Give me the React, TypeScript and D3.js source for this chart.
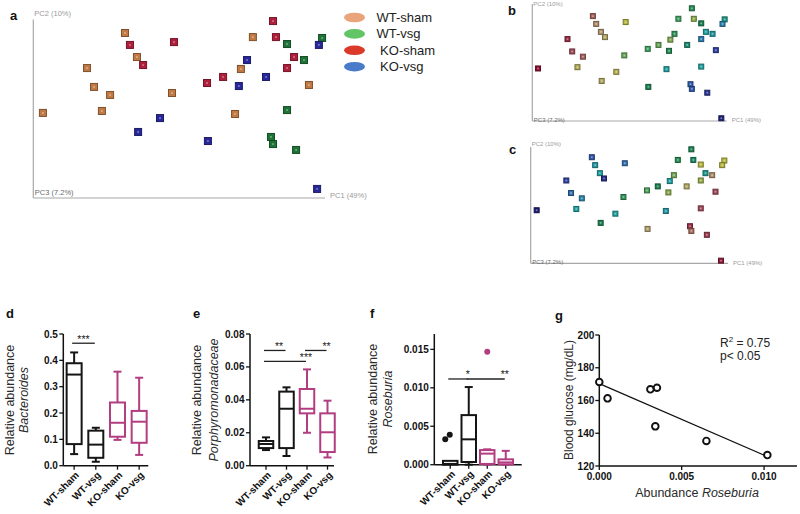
import React from "react";
import * as d3 from "d3";

const FONT = "'Liberation Sans', Arial, Helvetica, sans-serif";

// ---------- PCoA (panels a-c) ----------
const groups = ["WT-sham", "WT-vsg", "KO-sham", "KO-vsg"];
const legendLabels = ["WT-sham", "WT-vsg", " KO-sham", " KO-vsg"];
const legendColors = ["#eaa47b", "#63c666", "#db3a2a", "#4a7bca"];
const pcoaColors = ["#c27a45", "#1e7337", "#b0203c", "#28289b"];
const axisLabels = ["PC2 (10%)", "PC3 (7.2%)", "PC1 (49%)"];

// group index per sample (0 WT-sham, 1 WT-vsg, 2 KO-sham, 3 KO-vsg)
const sampleGroup = [0,0,0,0,0,0,0,0,0,0,0,0, 2,2,2,2,2,2,2,2,2, 1,1,1,1,1,1,1, 3,3,3,3,3,3,3,3];
// PC1 / PC2 scores (scaled units 0-100)
const pc1 = [31.5,35.6,18.5,20.9,26.4,23.6,3.4,47.6,75.3,71.2,94.5,69.2,
  82.2,33.2,37.7,48.3,83.2,89.4,87.0,65.1,59.6,
  99.0,87.0,92.8,87.0,81.5,82.2,90.1,
  97.9,73.3,79.8,70.5,43.5,36.0,59.9,97.3];
const pc2 = [92.7,79.2,73.0,62.4,57.9,48.9,47.8,59.0,90.4,72.5,63.5,47.2,
  99.4,86.0,74.7,87.6,90.4,79.2,73.0,68.0,64.6,
  89.9,86.5,77.5,49.4,34.3,30.3,27.0,
  86.0,77.5,68.0,62.9,44.9,37.1,32.0,5.1];
// continuous colouring values (0-1) for panels b and c
const gradientB = [0.15,0.26,0.05,0.10,0.15,0.32,0.0,0.5,0.56,0.46,0.9,0.7,
  0.6,0.24,0.3,0.36,0.44,0.7,0.78,0.5,0.56,
  0.68,0.62,0.72,0.7,0.84,0.85,0.93,
  0.76,0.58,0.65,0.6,0.33,0.3,0.62,0.98];
const gradientC = [0.86,0.7,0.9,0.8,0.76,0.7,1.0,0.58,0.6,0.7,0.1,0.72,
  0.62,0.72,0.95,0.8,0.64,0.68,0.42,0.62,0.54,
  0.36,0.36,0.24,0.1,0.06,0.18,0.08,
  0.36,0.48,0.3,0.44,0.7,0.62,0.28,0.02];
const gradientStops = [0, 0.1, 0.2, 0.28, 0.36, 0.46, 0.56, 0.62, 0.7, 0.8, 0.9, 1];
const gradientColors = ["#8c1030","#a04858","#a87860","#b0a070","#b8b840","#80a850","#40a060","#1a8050","#20a0a0","#3070b0","#3040a0","#1c1c70"];

// ---------- Box plots (panels d-f) ----------
// [min, q1, median, q3, max]
const bacteroides = [[0.044,0.082,0.346,0.389,0.430],[0.015,0.030,0.080,0.133,0.144],[0.098,0.110,0.163,0.240,0.357],[0.041,0.087,0.167,0.208,0.334]];
const porphyromonadaceae = [[0.0095,0.0107,0.0132,0.0150,0.0172],[0.0059,0.0107,0.0346,0.0450,0.0476],[0.0200,0.0318,0.0346,0.0466,0.0585],[0.0050,0.0083,0.0203,0.0318,0.0395]];
const roseburia = [[0,0,0.0001,0.0005,0.0005],[0,0.00035,0.0033,0.00645,0.0101],[0,0.0001,0.00144,0.0019,0.0020],[0,0.00005,0.0003,0.0007,0.0018]];
const roseburiaOutlierGroup = [0, 0, 2];
const roseburiaOutlierValue = [0.0033, 0.0039, 0.0147];
const bacTicks = [0, 0.1, 0.2, 0.3, 0.4, 0.5];
const porTicks = [0, 0.02, 0.04, 0.06, 0.08];
const rosTicks = [0, 0.005, 0.010, 0.015];
const sigBac = [{ a: 0, b: 1, y: 0.465, label: "***", at: 0.5 }];
const sigPor = [{ a: 0, b: 1, y: 0.070, label: "**", at: 0.7 }, { a: 0, b: 2, y: 0.0634, label: "***", at: 1 }, { a: 2, b: 3, y: 0.070, label: "**", at: 1 }];
const sigRos = [{ a: 0, b: 1, y: 0.01115, label: "*", at: 1 }, { a: 1, b: 3, y: 0.01115, label: "**", at: 1 }];
const groupStroke = ["#151515", "#151515", "#b23d80", "#b23d80"];

// ---------- Scatter (panel g) ----------
const abundance = [0, 0.0005, 0.0031, 0.0035, 0.0034, 0.0065, 0.0102];
const glucose = [171.3, 161.3, 166.8, 167.8, 144.2, 135.3, 126.7];
const glucoseTicks = [120, 140, 160, 180, 200];
const abundanceTicks = [0, 0.005, 0.010];

function Pcoa(props: any) {
  const { xr, yr, ax, atop, ay, aright, colorOf, size, fs, lab } = props;
  const x = d3.scaleLinear().domain([0, 100]).range(xr);
  const y = d3.scaleLinear().domain([0, 100]).range(yr);
  return (
    <g>
      <line x1={ax} x2={ax} y1={atop} y2={ay} stroke="#a8a8a8" strokeWidth={1.2} />
      <line x1={ax} x2={aright} y1={ay} y2={ay} stroke="#a8a8a8" strokeWidth={1.2} />
      <text x={ax + 1} y={lab[0]} fontSize={fs} fill="#9a9a9a" fontFamily={FONT}>{axisLabels[0]}</text>
      <text x={ax + 1.5} y={lab[1]} fontSize={fs} fill="#6a6a6a" fontFamily={FONT}>{axisLabels[1]}</text>
      <text x={aright + 5} y={lab[2]} fontSize={fs} fill="#9a9a9a" fontFamily={FONT}>{axisLabels[2]}</text>
      {pc1.map((v, i) => {
        const c = colorOf(i);
        const cx = x(v), cy = y(pc2[i]);
        return (
          <g key={i}>
            <rect x={cx - size / 2} y={cy - size / 2} width={size} height={size} fill={c}
              stroke={d3.color(c)!.darker(1.2).formatHex()} strokeWidth={1} />
            <rect x={cx - 0.8} y={cy - 0.8} width={1.6} height={1.6} fill="#ffffff" opacity={0.45} />
          </g>
        );
      })}
    </g>
  );
}

function BoxPanel(props: any) {
  const { stats, yDomain, ax, axEnd, ay, atop, xRange, ticks, fmt, sig, boxW, capW, outG, outV, lab1, lab2, labX1, labX2, labY } = props;
  const yy = d3.scaleLinear().domain(yDomain).range([ay, atop]);
  const x = d3.scaleBand().domain(groups).range(xRange);
  const cx = (i: number) => (x(groups[i]) as number) + x.bandwidth() / 2;
  const f = d3.format(fmt);
  return (
    <g fontFamily={FONT}>
      <line x1={ax} x2={ax} y1={atop} y2={ay} stroke="#111" strokeWidth={1.5} />
      <line x1={ax} x2={axEnd} y1={ay} y2={ay} stroke="#111" strokeWidth={1.5} />
      {ticks.map((t: number) => (
        <g key={t}>
          <line x1={ax - 4} x2={ax} y1={yy(t)} y2={yy(t)} stroke="#111" strokeWidth={1.3} />
          <text x={ax - 5.5} y={yy(t)} dy="0.35em" textAnchor="end" fontSize={10} fontWeight="bold" fill="#111">{f(t)}</text>
        </g>
      ))}
      {groups.map((g, i) => (
        <g key={g}>
          <line x1={cx(i)} x2={cx(i)} y1={ay} y2={ay + 4} stroke="#111" strokeWidth={1.3} />
          <text transform={`translate(${cx(i) + 3},${ay + 7.5}) rotate(-45)`} dy="0.35em" textAnchor="end" fontSize={10} fontWeight="bold" fill="#111">{g}</text>
        </g>
      ))}
      {stats.map((s: number[], i: number) => {
        const c = cx(i), col = groupStroke[i];
        const [mn, q1, md, q3, mx] = s;
        return (
          <g key={i} stroke={col} strokeWidth={2} fill="none">
            {mx > q3 && <line x1={c} x2={c} y1={yy(q3)} y2={yy(mx)} />}
            {mx > q3 && <line x1={c - capW / 2} x2={c + capW / 2} y1={yy(mx)} y2={yy(mx)} />}
            {mn < q1 && <line x1={c} x2={c} y1={yy(q1)} y2={yy(mn)} />}
            {mn < q1 && <line x1={c - capW / 2} x2={c + capW / 2} y1={yy(mn)} y2={yy(mn)} />}
            <rect x={c - boxW / 2} y={yy(q3)} width={boxW} height={Math.max(0.5, yy(q1) - yy(q3))} fill="#fff" />
            <line x1={c - boxW / 2} x2={c + boxW / 2} y1={yy(md)} y2={yy(md)} />
          </g>
        );
      })}
      {(outV || []).map((v: number, k: number) => {
        const g = outG[k];
        const same = outG.filter((q: number) => q === g).length;
        const idx = outG.slice(0, k).filter((q: number) => q === g).length;
        const off = same > 1 ? -5 + idx * 4.5 : 0;
        return <circle key={k} cx={cx(g) + off} cy={yy(v)} r={3} fill={groupStroke[g]} />;
      })}
      {sig.map((s: any, k: number) => {
        const x1 = cx(s.a) - 2, x2 = cx(s.b) - 1;
        return (
          <g key={k}>
            <line x1={x1} x2={x2} y1={yy(s.y)} y2={yy(s.y)} stroke="#222" strokeWidth={1.3} />
            <text x={x1 + s.at * (x2 - x1)} y={yy(s.y) - 0.5} textAnchor="middle" fontSize={10.5} fill="#222">{s.label}</text>
          </g>
        );
      })}
      <text transform={`translate(${labX1},${labY}) rotate(-90)`} textAnchor="middle" dy="0.35em" fontSize={12.5} fill="#2a2a2a">{lab1}</text>
      <text transform={`translate(${labX2},${labY}) rotate(-90)`} textAnchor="middle" dy="0.35em" fontSize={12.5} fontStyle="italic" fill="#2a2a2a">{lab2}</text>
    </g>
  );
}

function Scatter() {
  const ax = 599.3, ay = 466, atop = 335, aright = 797;
  const x = d3.scaleLinear().domain([0, 0.012]).range([ax, aright]);
  const y = d3.scaleLinear().domain([120, 200]).range([ay, atop]);
  const mx = d3.mean(abundance)!, my = d3.mean(glucose)!;
  const sxy = d3.sum(abundance.map((v, i) => (v - mx) * (glucose[i] - my)));
  const sxx = d3.sum(abundance.map((v) => (v - mx) ** 2));
  const slope = sxy / sxx, icpt = my - slope * mx;
  const ext = d3.extent(abundance) as [number, number];
  const line = d3.line<number>().x((v) => x(v)).y((v) => y(icpt + slope * v));
  return (
    <g fontFamily={FONT}>
      <line x1={ax} x2={ax} y1={atop} y2={ay} stroke="#111" strokeWidth={1.5} />
      <line x1={ax} x2={aright} y1={ay} y2={ay} stroke="#111" strokeWidth={1.5} />
      {glucoseTicks.map((t) => (
        <g key={t}>
          <line x1={ax - 4} x2={ax} y1={y(t)} y2={y(t)} stroke="#111" strokeWidth={1.3} />
          <text x={ax - 5} y={y(t)} dy="0.35em" textAnchor="end" fontSize={10} fontWeight="bold" fill="#111">{t}</text>
        </g>
      ))}
      {abundanceTicks.map((t) => (
        <g key={t}>
          <line x1={x(t)} x2={x(t)} y1={ay} y2={ay + 4} stroke="#111" strokeWidth={1.3} />
          <text x={x(t)} y={ay + 14} textAnchor="middle" fontSize={10} fontWeight="bold" fill="#111">{d3.format(".3f")(t)}</text>
        </g>
      ))}
      <path d={line(ext) || ""} stroke="#111" strokeWidth={1.2} fill="none" />
      {abundance.map((v, i) => (
        <circle key={i} cx={x(v)} cy={y(glucose[i])} r={3.3} fill="#fff" stroke="#111" strokeWidth={1.9} />
      ))}
      <text x={720} y={347} fontSize={12} fill="#222">R<tspan dy={-5} fontSize={8}>2</tspan><tspan dy={5}> = 0.75</tspan></text>
      <text x={720} y={360} fontSize={12} fill="#222">p&lt; 0.05</text>
      <text transform={`translate(568.5,400) rotate(-90)`} textAnchor="middle" dy="0.35em" fontSize={12} fill="#2a2a2a">Blood glucose (mg/dL)</text>
      <text x={697} y={497} textAnchor="middle" fontSize={12.5} fill="#2a2a2a">Abundance <tspan fontStyle="italic">Roseburia</tspan></text>
    </g>
  );
}

export default function App() {
  const grad = d3.scaleLinear<string>().domain(gradientStops).range(gradientColors).interpolate(d3.interpolateRgb);
  return (
    <svg width={800} height={514} style={{ position: "absolute", left: 0, top: 0, background: "#fff" }}>
      <rect width={800} height={514} fill="#fff" />
      <g fontFamily={FONT} fontWeight="bold" fontSize={13} fill="#111">
        <text x={10} y={20}>a</text>
        <text x={508} y={15}>b</text>
        <text x={509} y={154}>c</text>
        <text x={6} y={318}>d</text>
        <text x={193} y={318}>e</text>
        <text x={370} y={318}>f</text>
        <text x={555} y={320}>g</text>
      </g>
      <Pcoa xr={[33, 325]} yr={[198, 20]} ax={33.3} atop={19.5} ay={198} aright={325} size={7} fs={7.5}
        lab={[16, 194.5, 198]} colorOf={(i: number) => pcoaColors[sampleGroup[i]]} />
      <g fontFamily={FONT}>
        {groups.map((g, i) => (
          <g key={g}>
            <ellipse cx={354.5} cy={17.5 + i * 16.4} rx={10.5} ry={4.8} fill={legendColors[i]} />
            <text x={376.5} y={22 + i * 16.4} fontSize={13} fill="#222" style={{ whiteSpace: "pre" }}>{legendLabels[i]}</text>
          </g>
        ))}
      </g>
      <Pcoa xr={[531.4, 726.6]} yr={[124.2, 7.6]} ax={532.3} atop={4} ay={121} aright={726.7} size={5} fs={6}
        lab={[5.5, 121.5, 122]} colorOf={(i: number) => grad(gradientB[i])} />
      <Pcoa xr={[530, 726.3]} yr={[266.7, 148.6]} ax={530.7} atop={147} ay={263.3} aright={728} size={5} fs={6}
        lab={[145.5, 264, 264.5]} colorOf={(i: number) => grad(gradientC[i])} />
      <BoxPanel stats={bacteroides} yDomain={[0, 0.5]} ax={63.3} axEnd={148.3} ay={465.7} atop={334}
        xRange={[63.3, 150]} ticks={bacTicks} fmt=".1f" sig={sigBac} boxW={15} capW={8}
        lab1="Relative abundance" lab2="Bacteroides" labX1={10} labX2={23.5} labY={400} />
      <BoxPanel stats={porphyromonadaceae} yDomain={[0, 0.08]} ax={250} axEnd={334} ay={465.7} atop={334}
        xRange={[255.75, 337.75]} ticks={porTicks} fmt=".2f" sig={sigPor} boxW={14.5} capW={8}
        lab1="Relative abundance" lab2="Porphyromonadaceae" labX1={197} labX2={213.5} labY={400} />
      <BoxPanel stats={roseburia} yDomain={[0, 0.017]} ax={434.3} axEnd={521.7} ay={464.7} atop={334}
        xRange={[441, 515]} ticks={rosTicks} fmt=".3f" sig={sigRos} boxW={14.5} capW={8}
        outG={roseburiaOutlierGroup} outV={roseburiaOutlierValue}
        lab1="Relative abundance" lab2="Roseburia" labX1={372.5} labX2={388} labY={399} />
      <Scatter />
    </svg>
  );
}
